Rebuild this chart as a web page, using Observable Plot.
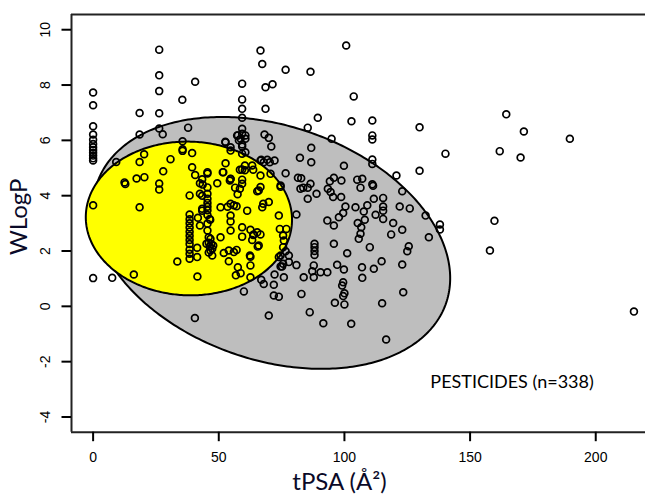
<!DOCTYPE html>
<html><head><meta charset="utf-8">
<script src="https://cdn.jsdelivr.net/npm/d3@7"></script>
<script src="https://cdn.jsdelivr.net/npm/@observablehq/plot@0.6"></script>
<style>body{margin:0;background:#fff}</style>
</head><body><div id="chart"></div>
<script>
const xTicks = [0, 50, 100, 150, 200];
const yTicks = [-4, -2, 0, 2, 4, 6, 8, 10];
const xLabel = "tPSA (Å²)";
const yLabel = "WLogP";
const annotation = "PESTICIDES (n=338)";

// ellipse parameters: [center tPSA, center WLogP, axis tPSA, axis WLogP, angle (deg)]
const whiteEllipse = [71.051, 2.292, 142.081, 8.740, -1.031325];
const yolkEllipse = [38.117, 3.177, 82.061, 5.557, -0.066837];

// points as [tPSA, WLogP]
const pointsZeroPSA = [[0,7.73],[0,7.27],[0,6.51],[0,6.21],[0,6.02],[0,5.87],[0,5.75],[0,5.65],[0,5.55],[0,5.45],[0,5.35],[0,5.27],[0,3.65],[0,1.02]];
const pointsLowPSA = [[7.6,1.03],[9.2,5.22],[12.5,4.48],[12.8,4.42],[16.2,1.15],[17.3,4.62],[18.5,6.99],[18.5,6.21],[18.5,5.22],[18.5,3.58],[20.3,5.5],[20.4,4.67],[26.3,9.28],[26.3,8.35],[26.3,7.78],[26.3,6.98],[26.3,6.43],[27.7,6.22],[26.3,4.44],[26.3,4.22],[27.9,4.88],[30.8,5.32]];
const pointsYolkCore = [[33.5,1.62],[35.5,7.47],[35.6,5.97],[35.6,5.68],[35.6,5.62],[37.8,6.46],[39.4,5.54],[40.6,8.12],[39.4,5.03],[40.6,4.75],[38.4,4.01],
 [38.4,3.32],[38.4,3.15],[38.4,3.0],[38.4,2.85],[38.4,2.7],[38.4,2.55],[38.4,2.4],[38.4,2.25],[38.4,2.05],[38.4,1.9],[38.4,1.72],
 [41.4,2.12],[41.4,1.78],[41.5,1.08],[40.5,-0.42],[41.7,3.2],[42.5,2.92],[42.5,4.45],[42.5,4.07],[43.4,4.59],[43.6,4.4],[43.4,4.0],[43.4,3.53],[43.4,3.46],
 [45.5,4.85],[45.5,4.8],[45.5,4.3],[45.5,4.07],[45.5,3.89],[45.5,3.74],[45.5,3.6],[45.5,3.47],[45.5,3.3],[45.5,2.99],[45.5,2.74],
 [46.6,3.13],[46.4,3.16],[46.0,2.5],[46.7,2.44],[45.1,2.26],[46.4,2.16],[47.4,2.08],[47.8,2.2],[47.4,1.84],[46.7,2.02],[46.0,2.3],[47.0,2.25],[46.0,1.95],[49.4,4.45]];
const pointsYolkRight = [[50.7,3.58],[50.7,2.5],[51.8,4.85],[52.7,5.17],[52.6,5.95],[54.7,5.63],[54.7,4.6],[54.4,4.55],[56.5,4.29],[58.4,4.25],[57.5,4.05],[54.7,3.71],[53.5,3.6],[57.1,3.62],[56,3.65],[54.7,3.28],[54.7,3.07],[54.7,2.74],[52,1.93],[54,2.02],[57.1,2.04],[54,1.63],[57.6,1.41],[56.8,1.12],[58.7,1.2],[59.3,4.58],[60.4,4.92],[60.4,5.09],[61.3,3.46],[62.6,2.77],[63.7,2.58],[65.3,2.68],[65.5,2.16],[62.6,1.79],[62.6,1.48],[62.6,1.05],[59.3,2.52],[65.9,4.19],[66.6,4.31],[67.7,3.71],[69.9,3.77],[58.4,4.94],[59.3,4.43],[66.6,4.73],[70.6,4.79],[73.9,3.28],[74.3,2.8],[76.9,2.8],[75.6,2.56],[75.9,2.38],[75.6,2.14],[73.9,1.78],[75.2,1.44],[75.9,1.05],[63.7,4.94],[65.3,4.16],[59.3,2.86],[66.6,2.6],[63.9,2.6],[63.3,2.4],[65.9,2.2],[62.4,1.84],[56,1.96],[74.6,4.37],[74.6,4.32],[76.6,1.99],[74.6,1.84],[67.3,3.58],[59.3,4.95],[63.3,5.09],[66.6,5.27],[57.3,6.18],[54.7,4.61],[51.6,4.85]];
const pointsColumn60 = [[59.3,8.05],[59.3,7.48],[59.3,7.14],[59.3,6.82],[59.3,6.42],[59.3,6.24],[58.7,6.06],[60.6,6.06],[59.3,5.78],[59.3,5.52],[60.6,5.57],[59.3,5.85],[58,6.0],[57.6,6.18],[60.6,6.18],[52.7,5.93],[54.7,5.75]];
const pointsWhiteUpper = [[66.6,9.25],[67.3,8.76],[68.6,7.92],[71.4,8.03],[76.6,8.55],[86.5,8.48],[100.7,9.43],[103.7,7.59],[68.6,7.14],[89.4,6.82],[102.8,6.69],[111.1,6.72],[85.4,6.46],[68.2,6.21],[69.9,6.09],[94.9,6.06],[111.1,6.18],[111.1,6.03],[70.9,5.78],[86.8,5.73],[86.8,5.21],[82.3,5.37],[99.8,5.08],[111.1,5.31],[111.1,5.15],[66.9,5.3],[69.3,5.3],[70.3,5.21],[72.2,5.27],[67.9,5.21],[76.6,4.81],[81.5,4.65],[82.8,4.63],[82.5,4.25],[83.6,4.29],[85.4,4.29],[86.5,4.43],[88.9,4.07],[85.4,3.89],[94.2,4.52],[95.8,4.65],[98.8,4.55],[93.4,4.25],[94.5,4.13],[95.5,3.95],[98.7,3.95],[105.1,4.58],[107.1,4.61],[106.4,4.29],[111.1,4.41],[111.4,4.36],[115.4,3.92],[111.7,3.89],[100.4,3.61],[104.4,3.58],[109.1,3.65],[115.4,3.61],[115.4,3.46],[112.4,3.31],[107.7,3.43],[99.5,3.37],[93.2,3.1],[95.8,2.92],[97.8,3.22],[105.3,3.01],[106.7,2.86],[108.1,3.13],[106.4,2.62],[110.1,2.14],[101.1,1.92],[95.8,2.26],[119.4,3.01],[118.6,2.6],[80.9,3.32],[88.1,2.26],[88.1,2.14],[88.1,2.0],[88.1,1.86],[77.9,1.84]];
const pointsWhiteLower = [[60,0.54],[69.9,-0.33],[71.9,0.39],[73.9,0.35],[71.9,0.78],[67.9,0.81],[66.9,0.96],[72.2,1.15],[74.6,1.44],[75.6,1.54],[77.9,1.6],[80.9,1.49],[82.9,0.45],[83.8,1.05],[86.2,-0.21],[91.6,-0.61],[87.8,1.05],[87.2,1.27],[87.8,1.48],[90.5,1.23],[93.2,1.23],[97.1,1.5],[99.8,1.33],[99.5,0.87],[99.1,0.75],[100,0.47],[99.5,0.37],[96.2,0.13],[100,0.07],[102.7,-0.63],[107,1.41],[107.1,1.03],[111.7,1.36],[114.8,1.63],[115,0.11],[116.6,-1.2],[105.7,2.44]];
const pointsHighPSA = [[129.9,6.47],[140.2,5.52],[164.4,6.94],[171.4,6.32],[161.8,5.61],[170.1,5.38],[189.7,6.06],[159.7,3.09],[157.9,2.02],[215.2,-0.19],[129.9,4.9],[120.7,4.73],[123,4.16],[115.4,3.16],[122,3.61],[126,3.54],[132.3,3.28],[138,2.96],[138,2.78],[123,2.77],[133.6,2.5],[125.6,2.17],[125,1.99],[123,1.51],[123.4,0.51]];

const points = [...pointsZeroPSA, ...pointsLowPSA, ...pointsYolkCore, ...pointsYolkRight, ...pointsColumn60, ...pointsWhiteUpper, ...pointsWhiteLower, ...pointsHighPSA];

function ellipsePath([cx, cy, ax, ay, deg]) {
  const th = deg * Math.PI / 180, c = Math.cos(th), s = Math.sin(th);
  const a = ax / 2, b = ay / 2;
  return d3.range(0, 360, 1).map(d => {
    const t = d * Math.PI / 180;
    return [cx + a * Math.cos(t) * c - b * Math.sin(t) * s, cy + a * Math.cos(t) * s + b * Math.sin(t) * c];
  });
}

const xDom = [-8.6, 219.8], yDom = [-4.55, 10.55];
const tickFont = "'Liberation Sans', Arial, sans-serif";
const labelFont = "Lato, 'Open Sans', sans-serif";

const chart = Plot.plot({
  width: 645, height: 498,
  marginLeft: 71, marginRight: 0, marginTop: 14, marginBottom: 66.3,
  style: {background: "#fff", fontFamily: tickFont, fontSize: "14px", color: "#000"},
  x: {domain: xDom, ticks: xTicks, label: null},
  y: {domain: yDom, ticks: yTicks, label: null},
  marks: [
    Plot.line(ellipsePath(whiteEllipse), {x: d => d[0], y: d => d[1], curve: "linear-closed", fill: "#bebebe", stroke: "#000", strokeWidth: 2}),
    Plot.line(ellipsePath(yolkEllipse), {x: d => d[0], y: d => d[1], curve: "linear-closed", fill: "#ffff00", stroke: "#000", strokeWidth: 2}),
    Plot.dot(points, {x: d => d[0], y: d => d[1], r: 3.4, stroke: "#000", strokeWidth: 1.7, fill: "none"}),
    Plot.ruleY([yDom[0]], {stroke: "#222", strokeWidth: 2}),
    Plot.ruleY([yDom[1]], {stroke: "#222", strokeWidth: 2}),
    Plot.ruleX([xDom[0]], {stroke: "#222", strokeWidth: 2}),
    Plot.axisX({ticks: xTicks, tickSize: 9.5, tickPadding: 10, strokeWidth: 2, label: null, fontSize: 14}),
    Plot.axisY({ticks: yTicks, tickSize: 9.5, strokeWidth: 2, label: null, tickFormat: () => ""}),
    Plot.text(yTicks, {y: d => d, text: d => String(d), frameAnchor: "left", textAnchor: "middle", dx: -26.3, rotate: -90, fontSize: 14}),
    Plot.text([yLabel], {frameAnchor: "left", textAnchor: "middle", dx: -52, dy: -6.5, rotate: -90, fontSize: 24, fontFamily: labelFont, fill: "#0a0a28"}),
    Plot.text([xLabel], {frameAnchor: "bottom", textAnchor: "middle", dx: -19, dy: 58, fontSize: 24, fontFamily: labelFont, fill: "#0a0a28"}),
    Plot.text([annotation], {x: 166.7, y: -2.75, fontSize: 18, fontFamily: labelFont, fill: "#000"})
  ]
});
document.getElementById("chart").appendChild(chart);
</script>
</body></html>
